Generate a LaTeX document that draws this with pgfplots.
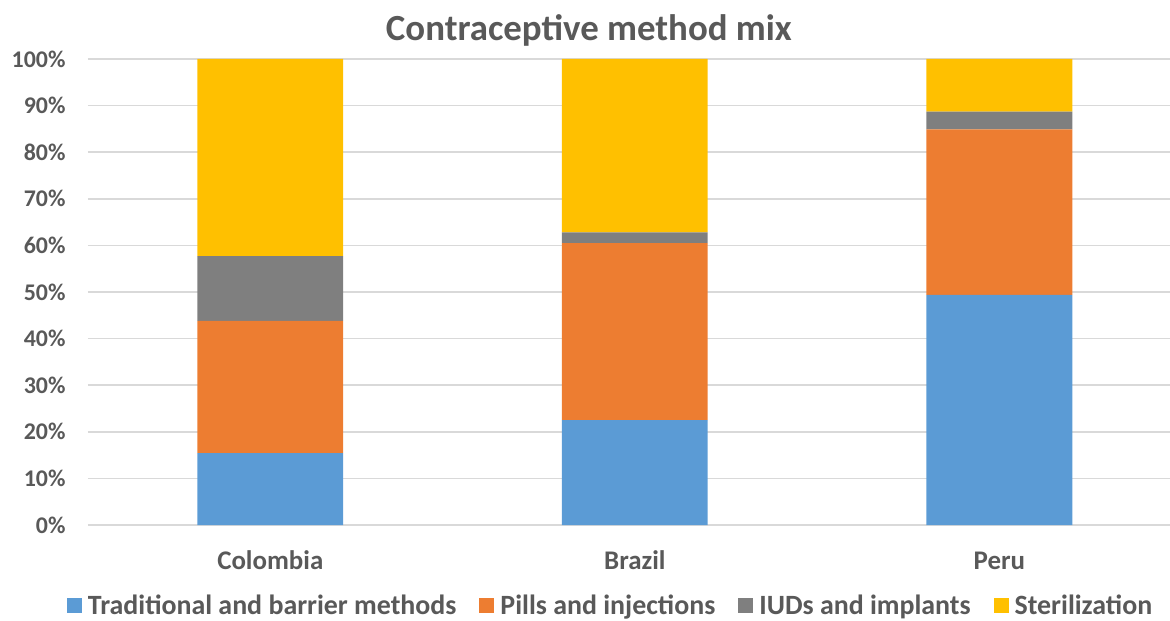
\documentclass[border=0pt]{standalone}
\usepackage{pgfplots}
\pgfplotsset{compat=1.18}
\usetikzlibrary{calc}
\usepackage{fontspec}
\setmainfont{Carlito}
\definecolor{txt}{HTML}{595959}
\definecolor{gridc}{HTML}{D9D9D9}
\definecolor{cblue}{HTML}{5B9BD5}
\definecolor{corange}{HTML}{ED7D31}
\definecolor{cgrey}{HTML}{7F7F7F}
\definecolor{cyellow}{HTML}{FFC000}
\begin{document}
\begin{tikzpicture}
\begin{axis}[
  scale only axis, width=1082bp, height=466bp,
  xmin=-0.5, xmax=2.468, ymin=0, ymax=100,
  ybar stacked, bar width=0.4,
  axis line style={draw=none}, major tick length=0pt,
  ytick={0,10,...,100},
  yticklabel={\pgfmathprintnumber{\tick}\%},
  /pgf/number format/assume math mode=true,
  yticklabel style={font=\fontsize{24}{28}\selectfont\bfseries, text=txt, xshift=-19bp},
  ymajorgrids, grid style={draw=gridc, line width=1.5bp},
  xtick={0,1,2}, xticklabels={Colombia,Brazil,Peru},
  xticklabel style={font=\fontsize{27}{32}\selectfont\bfseries, text=txt, yshift=-22bp, text height=19bp, text depth=6bp},
  legend columns=4,
  legend style={draw=none, at={(0.483,-0.172)}, anchor=center,
    font=\fontsize{28}{33}\selectfont\bfseries, text=txt,
    /tikz/every even column/.append style={column sep=21bp},
    /tikz/every odd column/.append style={column sep=4bp},
    inner sep=0pt},
  legend image code/.code={\fill[#1] (0bp,-8bp) rectangle (15bp,7bp);},
  clip=false,
]
\addplot[fill=cblue, draw=none] coordinates {(0,15.4) (1,22.5) (2,49.4)};
\addplot[fill=corange, draw=none] coordinates {(0,28.4) (1,38.0) (2,35.5)};
\addplot[fill=cgrey, draw=none] coordinates {(0,13.9) (1,2.3) (2,3.8)};
\addplot[fill=cyellow, draw=none] coordinates {(0,42.3) (1,37.2) (2,11.3)};
\legend{Traditional and barrier methods, Pills and injections, IUDs and implants, Sterilization}
\node[font=\fontsize{37}{44}\selectfont\bfseries, text=txt, anchor=center] at (rel axis cs:0.463,1.062) {Contraceptive method mix};
\coordinate (bl) at (rel axis cs:0,0);
\end{axis}
\pgfresetboundingbox
\path[use as bounding box] ($(bl)+(-88bp,-96bp)$) rectangle ($(bl)+(1082bp,525bp)$);
\end{tikzpicture}
\end{document}
